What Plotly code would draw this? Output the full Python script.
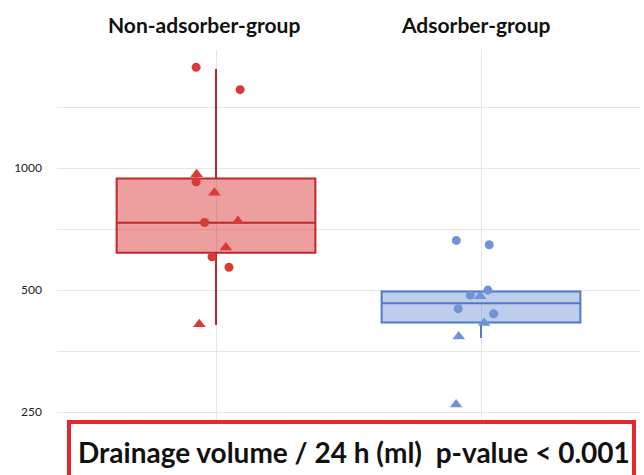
import plotly.graph_objects as go
import math

groups = ["Non-adsorber-group", "Adsorber-group"]
tick_vals = [250, 500, 1000]
tick_text = ["250", "500", "1000"]
grid_vals = [250, 353.6, 500, 707.1, 1000, 1414.2]

# precomputed box statistics (ml / 24 h)
non_q1, non_med, non_q3, non_lo, non_hi = 618, 733, 943, 410, 1755
ads_q1, ads_med, ads_q3, ads_lo, ads_hi = 416, 464, 496, 381, 496

# individual patients (circles / triangles) with horizontal jitter
non_circ_vals = [1772, 1561, 925, 734, 604, 569]
non_circ_jit = [-0.075, 0.091, -0.075, -0.043, -0.015, 0.049]
non_tri_vals = [966, 869, 740, 637, 412]
non_tri_jit = [-0.073, -0.006, 0.083, 0.037, -0.063]
ads_circ_vals = [663, 647, 500, 486, 450, 437]
ads_circ_jit = [-0.093, 0.031, 0.026, -0.040, -0.086, 0.048]
ads_tri_vals = [483, 415, 384, 261]
ads_tri_jit = [-0.003, 0.012, -0.084, -0.094]

RED_LINE = "#C0272D"
RED_MARK = "#D93A35"
BLUE_LINE = "#4F7AC7"
BLUE_MARK = "#6F93D3"

fig = go.Figure()
fig.add_trace(go.Box(x=[0], q1=[non_q1], median=[non_med], q3=[non_q3],
                     lowerfence=[non_lo], upperfence=[non_hi],
                     width=0.75, whiskerwidth=0, boxpoints=False,
                     fillcolor="rgba(214,39,40,0.45)",
                     line=dict(color=RED_LINE, width=2), showlegend=False,
                     hoverinfo="skip"))
fig.add_trace(go.Box(x=[1], q1=[ads_q1], median=[ads_med], q3=[ads_q3],
                     lowerfence=[ads_lo], upperfence=[ads_hi],
                     width=0.75, whiskerwidth=0, boxpoints=False,
                     fillcolor="rgba(90,130,205,0.4)",
                     line=dict(color=BLUE_LINE, width=2), showlegend=False,
                     hoverinfo="skip"))

fig.add_trace(go.Scatter(x=[0 + j for j in non_circ_jit], y=non_circ_vals, mode="markers",
                         marker=dict(symbol="circle", size=9, color=RED_MARK), showlegend=False))
fig.add_trace(go.Scatter(x=[0 + j for j in non_tri_jit], y=non_tri_vals, mode="markers",
                         marker=dict(symbol="triangle-up", size=11, color=RED_MARK), showlegend=False))
fig.add_trace(go.Scatter(x=[1 + j for j in ads_circ_jit], y=ads_circ_vals, mode="markers",
                         marker=dict(symbol="circle", size=9, color=BLUE_MARK), showlegend=False))
fig.add_trace(go.Scatter(x=[1 + j for j in ads_tri_jit], y=ads_tri_vals, mode="markers",
                         marker=dict(symbol="triangle-up", size=11, color=BLUE_MARK), showlegend=False))

for i, g in enumerate(groups):
    fig.add_annotation(x=i - 0.045 if i == 0 else i - 0.02, y=1.059, xref="x", yref="paper",
                       text="<b>%s</b>" % g, showarrow=False,
                       font=dict(family="Lato", size=21, color="#111111"),
                       xanchor="center", yanchor="middle")

# bottom caption box
W, H = 644, 475
L, R, T, B = 57, 4, 50, 0
pw, ph = W - L - R, H - T - B
def px(x):
    return (x - L) / pw
def py(y):
    return (H - B - y) / ph

fig.add_shape(type="rect", xref="paper", yref="paper",
              x0=px(69), x1=px(634), y0=py(490), y1=py(422),
              line=dict(color="#E8262B", width=4), fillcolor="white", layer="above")
fig.add_annotation(x=px(354), y=py(452), xref="paper", yref="paper",
                   text="<b>Drainage volume / 24 h (ml)\u00a0\u00a0p-value &lt; 0.001</b>",
                   showarrow=False, font=dict(family="Lato", size=28, color="#111111"),
                   xanchor="center", yanchor="middle")

fig.update_layout(
    width=W, height=H, margin=dict(l=L, r=R, t=T, b=B),
    paper_bgcolor="white", plot_bgcolor="white",
    font=dict(family="Lato", color="#222222"),
    xaxis=dict(range=[-0.6, 1.6], tickvals=[0, 1], showticklabels=False,
               showgrid=True, gridcolor="#E6E6E6", gridwidth=1, zeroline=False,
               showline=False, ticks=""),
    yaxis=dict(type="log", range=[math.log10(175), math.log10(1955)],
               tickvals=tick_vals, ticktext=tick_text, showgrid=True,
               gridcolor="#E6E6E6", gridwidth=1, zeroline=False, showline=False,
               ticks="", ticklabelstandoff=14, tickfont=dict(size=12, color="#222222"),
               minor=dict(tickvals=grid_vals, showgrid=True, gridcolor="#E6E6E6", gridwidth=1, ticks="")),
)

fig.write_html("out.html", config={"displayModeBar": False},
               post_script="document.body.style.margin='0';document.body.style.overflow='hidden';")
